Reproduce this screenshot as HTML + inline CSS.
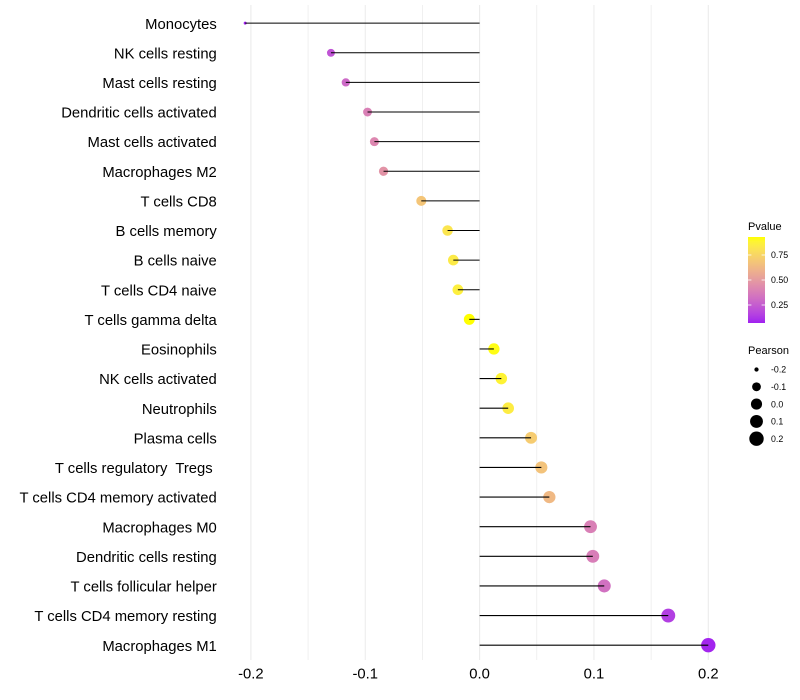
<!DOCTYPE html>
<html>
<head>
<meta charset="utf-8">
<title>Lollipop chart</title>
<style>
html,body{margin:0;padding:0;background:#fff;width:800px;height:700px;overflow:hidden}
svg{display:block}
text{font-family:"Liberation Sans",Arial,sans-serif}
</style>
</head>
<body>
<svg id="chart" xmlns="http://www.w3.org/2000/svg" width="800" height="700" viewBox="0 0 800 700"></svg>
<script>
const categories = ["Monocytes","NK cells resting","Mast cells resting","Dendritic cells activated","Mast cells activated","Macrophages M2","T cells CD8","B cells memory","B cells naive","T cells CD4 naive","T cells gamma delta","Eosinophils","NK cells activated","Neutrophils","Plasma cells","T cells regulatory  Tregs ","T cells CD4 memory activated","Macrophages M0","Dendritic cells resting","T cells follicular helper","T cells CD4 memory resting","Macrophages M1"];
const pearson = [-0.205,-0.130,-0.117,-0.098,-0.092,-0.084,-0.051,-0.028,-0.023,-0.019,-0.009,0.0125,0.019,0.025,0.045,0.054,0.061,0.097,0.099,0.109,0.165,0.200];
const pvalue = [0.07,0.22,0.30,0.39,0.42,0.47,0.68,0.82,0.84,0.86,0.93,0.92,0.88,0.85,0.71,0.67,0.63,0.39,0.38,0.33,0.15,0.08];
const xTicks = [-0.2,-0.1,0.0,0.1,0.2];
const xTickLabels = ["-0.2","-0.1","0.0","0.1","0.2"];
const xMinorTicks = [-0.15,-0.05,0.05,0.15];
const pvalueLegendTicks = [0.25,0.50,0.75];
const pvalueLegendLabels = ["0.25","0.50","0.75"];
const pearsonLegendValues = [-0.2,-0.1,0.0,0.1,0.2];
const pearsonLegendLabels = ["-0.2","-0.1","0.0","0.1","0.2"];

const NS = "http://www.w3.org/2000/svg";
const svg = document.getElementById("chart");
const PANEL_TOP = 5, PANEL_BOTTOM = 660;
const X0 = 479.6, X_PER_UNIT = 1143.5;
const ROW_FIRST = 23.15, ROW_STEP = 29.62;
const P_MIN = 0.07, P_MAX = 0.93;
const S_MIN = Math.min(...pearson), S_MAX = Math.max(...pearson);

function xScale(v){ return X0 + v * X_PER_UNIT; }
function yScale(i){ return ROW_FIRST + i * ROW_STEP; }
function rScale(v){
  const t = Math.max(0, (v - S_MIN) / (S_MAX - S_MIN));
  return 1.5 + 5.7 * Math.sqrt(t);
}
function legendY(p){ return 323 - (p - P_MIN) / (P_MAX - P_MIN) * 86; }

function toLab(c){
  const l = c.map(u => { u /= 255; return u > 0.04045 ? Math.pow((u + 0.055) / 1.055, 2.4) : u / 12.92; });
  const X = (0.4124 * l[0] + 0.3576 * l[1] + 0.1805 * l[2]) / 0.95047;
  const Y = 0.2126 * l[0] + 0.7152 * l[1] + 0.0722 * l[2];
  const Z = (0.0193 * l[0] + 0.1192 * l[1] + 0.9505 * l[2]) / 1.08883;
  const f = t => t > 0.008856 ? Math.cbrt(t) : 7.787 * t + 16 / 116;
  return [116 * f(Y) - 16, 500 * (f(X) - f(Y)), 200 * (f(Y) - f(Z))];
}
function fromLab(L){
  const fy = (L[0] + 16) / 116, fx = L[1] / 500 + fy, fz = fy - L[2] / 200;
  const g = t => t * t * t > 0.008856 ? t * t * t : (t - 16 / 116) / 7.787;
  const X = g(fx) * 0.95047, Y = g(fy), Z = g(fz) * 1.08883;
  const lin = [
    3.2406 * X - 1.5372 * Y - 0.4986 * Z,
    -0.9689 * X + 1.8758 * Y + 0.0415 * Z,
    0.0557 * X - 0.2040 * Y + 1.0570 * Z
  ];
  const out = lin.map(u => {
    u = Math.min(1, Math.max(0, u));
    const s = u > 0.0031308 ? 1.055 * Math.pow(u, 1 / 2.4) - 0.055 : 12.92 * u;
    return Math.round(s * 255);
  });
  return "rgb(" + out.join(",") + ")";
}
const LOW_LAB = toLab([160, 32, 240]);
const HIGH_LAB = toLab([255, 255, 0]);
function colorScale(p){
  const t = Math.min(1, Math.max(0, (p - P_MIN) / (P_MAX - P_MIN)));
  return fromLab(LOW_LAB.map((a, i) => a + (HIGH_LAB[i] - a) * t));
}
function make(tag, attrs, parent){
  const el = document.createElementNS(NS, tag);
  for (const k in attrs) el.setAttribute(k, attrs[k]);
  (parent || svg).appendChild(el);
  return el;
}

// gridlines
xMinorTicks.forEach(v => {
  const el = make("line", {x1:xScale(v), x2:xScale(v), y1:PANEL_TOP, y2:PANEL_BOTTOM, stroke:"#ebebeb", "stroke-width":0.75});
  
  
});
xTicks.forEach(v => {
  const el = make("line", {x1:xScale(v), x2:xScale(v), y1:PANEL_TOP, y2:PANEL_BOTTOM, stroke:"#ebebeb", "stroke-width":1.05});
  
  
});

// points
categories.forEach((c, i) => {
  const el = make("circle", {cx:xScale(pearson[i]), cy:yScale(i), r:rScale(pearson[i]), fill:colorScale(pvalue[i])});
  
  
});

// stems
categories.forEach((c, i) => {
  const el = make("line", {x1:X0, x2:xScale(pearson[i]), y1:yScale(i), y2:yScale(i), stroke:"#000", "stroke-width":1.07});
  
  
});

// y labels
categories.forEach((c, i) => {
  const el = make("text", {x:216.8, y:yScale(i) + 5.6, "text-anchor":"end", "font-size":14.82, fill:"#000"});
  el.setAttribute("xml:space", "preserve");
  el.style.whiteSpace = "pre";
  el.textContent = c;
  
  
});

// x labels
xTicks.forEach((v, i) => {
  const el = make("text", {x:xScale(v), y:678.3, "text-anchor":"middle", "font-size":14.82, fill:"#000"});
  el.textContent = xTickLabels[i];
  
  
});

// pvalue legend
const defs = make("defs", {});
const grad = make("linearGradient", {id:"pvalue-gradient", x1:0, y1:1, x2:0, y2:0}, defs);
for (let s = 0; s <= 20; s++) {
  make("stop", {offset:s / 20, "stop-color":colorScale(P_MIN + (P_MAX - P_MIN) * s / 20)}, grad);
}
const pTitle = make("text", {x:748, y:230, "font-size":11, fill:"#000"});
pTitle.textContent = "Pvalue";


const bar = make("rect", {x:748, y:237, width:17, height:86, fill:"url(#pvalue-gradient)"});


pvalueLegendTicks.forEach((p, i) => {
  const y = legendY(p);
  const t1 = make("line", {x1:748, x2:751.4, y1:y, y2:y, stroke:"#fff", "stroke-width":0.8});
  
  
  const t2 = make("line", {x1:761.6, x2:765, y1:y, y2:y, stroke:"#fff", "stroke-width":0.8});
  
  
  const lab = make("text", {x:771, y:y + 3.2, "font-size":8.8, fill:"#000"});
  lab.textContent = pvalueLegendLabels[i];
  
  
});

// pearson legend
const sTitle = make("text", {x:748, y:354, "font-size":11, fill:"#000"});
sTitle.textContent = "Pearson";


pearsonLegendValues.forEach((v, i) => {
  const y = 369.5 + i * 17.3;
  const dot = make("circle", {cx:756.5, cy:y, r:rScale(v), fill:"#000"});
  
  
  const lab = make("text", {x:771, y:y + 3.2, "font-size":8.8, fill:"#000"});
  lab.textContent = pearsonLegendLabels[i];
  
  
});
</script>
</body>
</html>
